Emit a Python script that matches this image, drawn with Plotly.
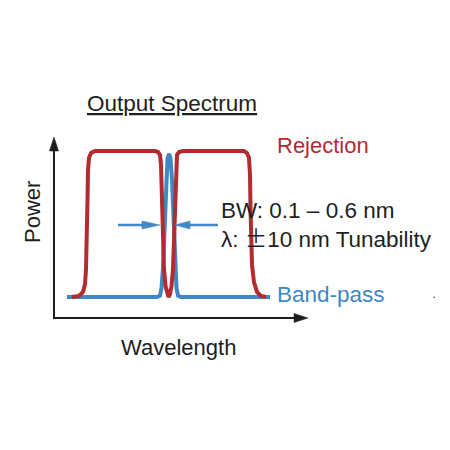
import plotly.graph_objects as go

# ---- data (wavelength in arbitrary units, power normalised 0..1) ----
rej_wl = [72, 79, 83, 85, 86, 87, 87.5, 88, 89, 91, 95, 155, 158, 160, 161, 162, 163, 164,
          165.5, 167, 168.5, 170, 171.5, 173, 174, 175, 176, 177, 179, 183, 244, 247, 249,
          250, 250.5, 251, 252, 254, 257, 261, 266]
rej_pw = [0, 0.007, 0.034, 0.088, 0.19, 0.395, 0.667, 0.871, 0.952, 0.986, 1, 1, 0.993,
          0.973, 0.905, 0.667, 0.395, 0.19, 0.075, 0.02, 0.0, 0.02, 0.075, 0.19, 0.395,
          0.667, 0.905, 0.973, 0.993, 1, 1, 0.986, 0.952, 0.837, 0.6, 0.4, 0.22, 0.1,
          0.035, 0.008, 0]

bp_wl = [67, 157, 160, 161.5, 163, 164.5, 166, 167.5, 169, 170.5, 172, 173.5, 175, 176.5,
         178, 181, 270]
bp_pw = [0, 0, 0.01, 0.06, 0.2, 0.5, 0.8, 0.95, 0.98, 0.95, 0.8, 0.5, 0.2, 0.06, 0.01, 0, 0]

title_text = "Output Spectrum"
rej_label = "Rejection"
bp_label = "Band-pass"
bw_text = "BW: 0.1 \u2013 0.6 nm"
tune_text = ("\u03bb: <span style='font-family:Noto Sans CJK JP'>\u00b1</span>"
             "10 nm Tunability")
x_title = "Wavelength"
y_title = "Power"

RED = "#B22B30"
BLUE = "#3F87C5"
INK = "#1E1E1E"
FONT = "Liberation Sans, Arial, sans-serif"

# the page body adds an 8px offset; compensate so positions match the canvas
OFF = 8.0

def px(x):
    return (x - OFF) / 450.0

def py(y):
    return 1 - (y - OFF) / 450.0

BASE = 297.0
SCALE = 146.0

fig = go.Figure()
fig.add_trace(go.Scatter(x=bp_wl, y=bp_pw, mode="lines",
                         line=dict(color=BLUE, width=4), hoverinfo="skip"))
fig.add_trace(go.Scatter(x=rej_wl, y=rej_pw, mode="lines",
                         line=dict(color=RED, width=4), hoverinfo="skip"))

shapes = []
shapes.append(dict(type="line", xref="paper", yref="paper", x0=px(54), y0=py(318),
                   x1=px(54), y1=py(148), line=dict(color=INK, width=2)))
shapes.append(dict(type="line", xref="paper", yref="paper", x0=px(53), y0=py(318),
                   x1=px(297), y1=py(318), line=dict(color=INK, width=2)))

def tri(points, color):
    d = "M " + " L ".join(f"{px(a):.5f},{py(b):.5f}" for a, b in points) + " Z"
    return dict(type="path", xref="paper", yref="paper", path=d,
                fillcolor=color, line=dict(color=color, width=0.5))

shapes.append(tri([(54, 137), (49.5, 151), (58.5, 151)], INK))
shapes.append(tri([(308, 318), (294, 313.5), (294, 322.5)], INK))

AY = 225
shapes.append(dict(type="line", xref="paper", yref="paper", x0=px(118), y0=py(AY),
                   x1=px(145), y1=py(AY), line=dict(color=BLUE, width=2.5)))
shapes.append(tri([(160, AY), (142, AY - 4), (142, AY + 4)], BLUE))
shapes.append(dict(type="line", xref="paper", yref="paper", x0=px(186), y0=py(AY),
                   x1=px(218), y1=py(AY), line=dict(color=BLUE, width=2.5)))
shapes.append(tri([(175, AY), (190, AY - 4), (190, AY + 4)], BLUE))
# small speck present in the reference image
shapes.append(dict(type="circle", xref="paper", yref="paper", x0=px(433.5), y0=py(296.5),
                   x1=px(435), y1=py(298), fillcolor="#333333", line=dict(width=0)))

def ann(text, x, y, size, color, xanchor="left", angle=0, align="center"):
    return dict(text=text, xref="paper", yref="paper", x=px(x), y=py(y),
                xanchor=xanchor, yanchor="middle", showarrow=False, textangle=angle,
                align=align, font=dict(family=FONT, size=size, color=color))

annotations = [
    ann("<u>" + title_text + "</u>", 172, 103, 22.5, INK, "center"),
    ann(rej_label, 275, 145, 22, RED),
    ann(bp_label, 275, 294, 22.5, BLUE),
    ann(bw_text + "<br>" + tune_text, 219, 225, 22.5, INK, align="left"),
    ann(x_title, 178, 347, 22, INK, "center"),
    ann(y_title, 32, 212, 22, INK, "center", -90),
]

fig.update_layout(
    width=450, height=450,
    margin=dict(l=0, r=0, t=0, b=0),
    paper_bgcolor="white", plot_bgcolor="white",
    showlegend=False,
    xaxis=dict(range=[OFF, 450 + OFF], visible=False, fixedrange=True),
    yaxis=dict(range=[(BASE - 450 - OFF) / SCALE, (BASE - OFF) / SCALE],
               visible=False, fixedrange=True),
    shapes=shapes, annotations=annotations,
)

fig.write_html("out.html", config={"displayModeBar": False})
